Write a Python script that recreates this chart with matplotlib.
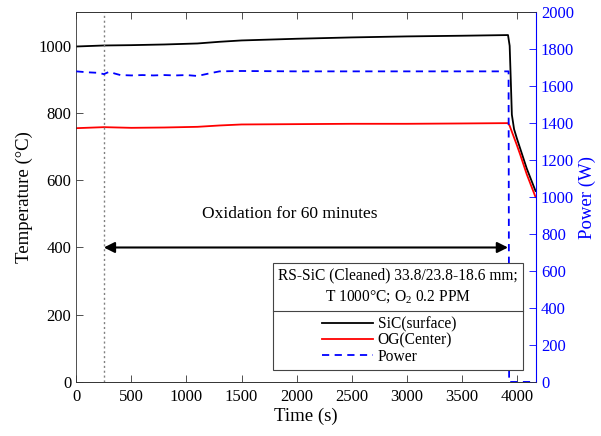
import matplotlib
matplotlib.use("Agg")
import matplotlib.pyplot as plt
from matplotlib.patches import Rectangle
from matplotlib.lines import Line2D

plt.rcParams['font.family'] = ['Liberation Serif', 'DejaVu Serif']
plt.rcParams['mathtext.fontset'] = 'custom'
plt.rcParams['mathtext.rm'] = 'Liberation Serif'

# ---- data ----
t_sic = [0, 250, 500, 800, 1100, 1300, 1500, 2000, 2500, 3000, 3500, 3920, 3935, 3945, 3955, 3975, 4000, 4030, 4090, 4170]
sic = [998, 1001, 1002, 1004, 1007, 1012, 1016, 1021, 1025, 1028, 1030, 1032, 1000, 900, 795, 752, 725, 695, 635, 568]

t_og = [0, 250, 500, 800, 1100, 1300, 1500, 2000, 2500, 3000, 3500, 3920, 3935, 4000, 4030, 4090, 4170]
og = [755, 758, 756, 757, 759, 763, 766, 767, 768, 768, 769, 770, 762, 705, 677, 618, 550]

t_pow = [0, 100, 200, 250, 300, 350, 400, 500, 600, 700, 800, 900, 1000, 1100, 1200, 1300, 1500, 2000, 2500, 3000, 3500, 3925, 3930, 4170]
power = [1680, 1675, 1672, 1665, 1678, 1668, 1660, 1658, 1660, 1658, 1660, 1658, 1660, 1655, 1668, 1680, 1682, 1680, 1680, 1680, 1680, 1680, 0, 0]

x_ticks = [0, 500, 1000, 1500, 2000, 2500, 3000, 3500, 4000]
y_ticks = [0, 200, 400, 600, 800, 1000]
p_ticks = [0, 200, 400, 600, 800, 1000, 1200, 1400, 1600, 1800, 2000]

start_t = 250
end_t = 3920

# ---- figure ----
fig = plt.figure(figsize=(6.01, 4.36), dpi=100)
ax = fig.add_axes([0.127, 0.124, 0.765, 0.848])
ax2 = ax.twinx()

ax.plot(t_sic, sic, color='black', lw=1.3, label='SiC(surface)')
ax.plot(t_og, og, color='red', lw=1.3, label='OG(Center)')
ax2.plot(t_pow, power, color='blue', lw=1.3, ls=(0, (4, 3)), label='Power')

ax.axvline(start_t, color='gray', ls=(0, (1.5, 2)), lw=1.0)

ax.set_xlim(0, 4175)
ax.set_ylim(0, 1100)
ax2.set_ylim(0, 2000)
ax.set_xticks(x_ticks)
ax.set_yticks(y_ticks)
ax2.set_yticks(p_ticks)

ax.set_xlabel('Time (s)', fontsize=13.5, labelpad=2)
ax.set_ylabel('Temperature (°C)', fontsize=13.5, labelpad=4)
ax2.set_ylabel('Power (W)', fontsize=13.5, color='blue', labelpad=3)

ax.tick_params(direction='in', labelsize=12, top=True, length=5, width=0.6, color='#333333')
ax.tick_params(axis='x', pad=5)
ax2.tick_params(direction='in', labelsize=12, colors='blue', length=5, width=0.6)
for s in ['left', 'top', 'bottom']:
    ax.spines[s].set_color('#333333')
    ax.spines[s].set_linewidth(0.6)
ax2.spines['right'].set_color('blue')
ax2.spines['right'].set_linewidth(0.8)
ax2.spines['left'].set_visible(False)
ax2.spines['top'].set_color('#333333')
ax2.spines['top'].set_linewidth(0.6)
ax2.spines['bottom'].set_color('#333333')
ax2.spines['bottom'].set_linewidth(0.6)
ax.spines['right'].set_visible(False)

# arrow + annotation
ax.annotate('', xy=(end_t, 400), xytext=(start_t, 400),
            arrowprops=dict(arrowstyle='<|-|>', color='black', lw=1.5,
                            mutation_scale=16, shrinkA=0, shrinkB=0))
ax.text(1940, 500, 'Oxidation for 60 minutes', fontsize=12.5, ha='center', va='center')

# legend box with title
bx0, bx1, by0, by1, bdiv = 0.428, 0.972, 0.032, 0.322, 0.192
ax2.add_patch(Rectangle((bx0, by0), bx1 - bx0, by1 - by0, transform=ax2.transAxes,
                        facecolor='white', edgecolor='#444444', lw=0.8, zorder=10))
ax2.add_line(Line2D([bx0, bx1], [bdiv, bdiv], transform=ax2.transAxes,
                    color='#444444', lw=0.8, zorder=11))
ax2.text((bx0 + bx1) / 2, 0.289, 'RS-SiC (Cleaned) 33.8/23.8-18.6 mm;', transform=ax2.transAxes,
         ha='center', va='center', fontsize=11.2, zorder=12)
ax2.text((bx0 + bx1) / 2, 0.229, 'T 1000°C; O$_2$ 0.2 PPM', transform=ax2.transAxes,
         ha='center', va='center', fontsize=11.2, zorder=12)

h1, l1 = ax.get_legend_handles_labels()
h2, l2 = ax2.get_legend_handles_labels()
leg = ax2.legend(h1 + h2, l1 + l2, loc='center', bbox_to_anchor=((bx0 + bx1) / 2 - 0.02, (by0 + bdiv) / 2),
                 bbox_transform=ax2.transAxes, frameon=False, fontsize=11.2,
                 handlelength=3.3, handletextpad=0.3, labelspacing=0.02, borderpad=0)
leg.set_zorder(13)

fig.savefig('out.png', dpi=100)
